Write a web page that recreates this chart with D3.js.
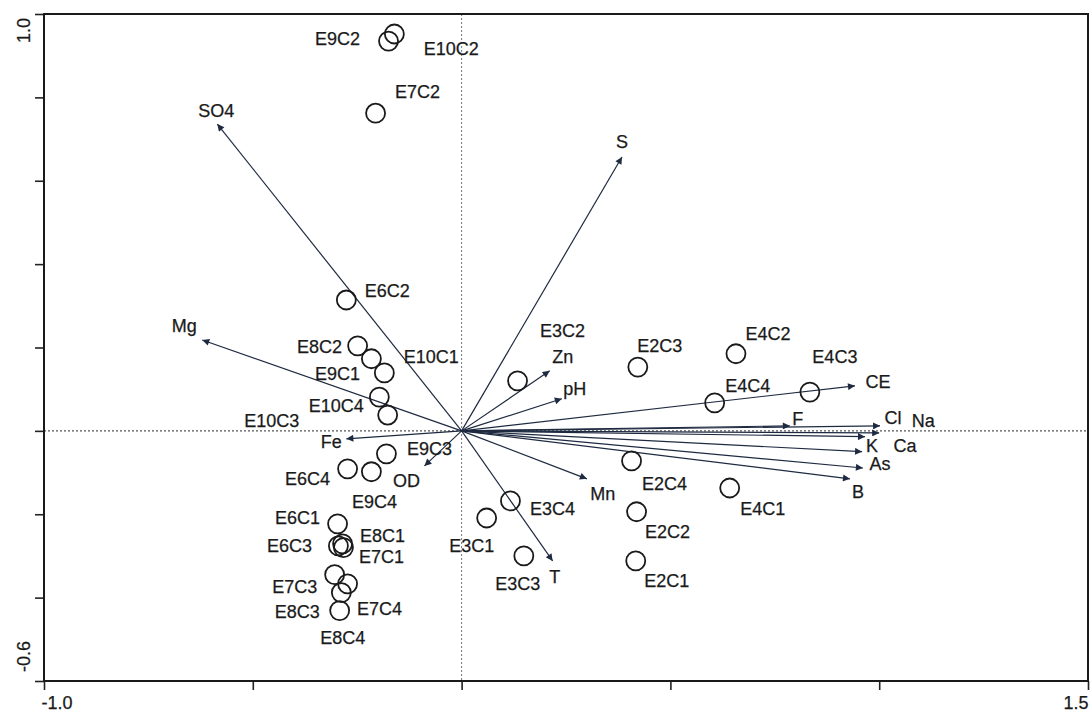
<!DOCTYPE html>
<html>
<head>
<meta charset="utf-8">
<script src="https://cdn.jsdelivr.net/npm/d3@7"></script>
<style>
  body { margin: 0; background: #fff; }
  svg { display: block; }
  text { font-family: "Liberation Sans", Arial, sans-serif; fill: #1a1a1a; stroke: #1a1a1a; stroke-width: 0.25px; }
</style>
</head>
<body>
<svg id="chart" width="1092" height="713"></svg>
<script>
// site scores (sample points)
const sites = ["E9C2", "E10C2", "E7C2", "E6C2", "E8C2", "E9C1", "E10C1", "E10C4", "E10C3", "E9C3",
    "E6C4", "E9C4", "E6C1", "E6C3", "E8C1", "E7C1", "E7C3", "E7C4", "E8C3", "E8C4",
    "E3C2", "E2C3", "E4C2", "E4C3", "E4C4", "E2C4", "E4C1", "E3C4", "E3C1", "E3C3", "E2C2", "E2C1"];
const siteX = [-0.175, -0.161, -0.206, -0.276, -0.249, -0.216, -0.185, -0.197, -0.177, -0.180,
    -0.273, -0.216, -0.297, -0.295, -0.285, -0.283, -0.304, -0.273, -0.288, -0.292,
    0.134, 0.422, 0.657, 0.834, 0.606, 0.407, 0.642, 0.117, 0.060, 0.149, 0.419, 0.417];
const siteY = [0.935, 0.952, 0.762, 0.314, 0.204, 0.173, 0.139, 0.081, 0.038, -0.055,
    -0.091, -0.098, -0.223, -0.276, -0.271, -0.280, -0.345, -0.367, -0.388, -0.431,
    0.120, 0.153, 0.185, 0.093, 0.067, -0.072, -0.137, -0.168, -0.209, -0.300, -0.194, -0.312];

// environmental variables (arrow tips)
const vars = ["SO4", "S", "Mg", "Zn", "pH", "CE", "F", "Cl", "Na", "Ca", "K", "As", "B", "Mn", "T", "OD", "Fe"];
const varX = [-0.585, 0.384, -0.621, 0.211, 0.240, 0.942, 0.786, 1.002, 1.000, 0.966, 0.959, 0.961, 0.930, 0.300, 0.218, -0.089, -0.276];
const varY = [0.736, 0.657, 0.218, 0.144, 0.077, 0.108, 0.012, 0.012, -0.005, -0.014, -0.050, -0.089, -0.115, -0.115, -0.312, -0.084, -0.019];

// axes
const xDomain = [-1.0, 1.5];
const yDomain = [-0.6, 1.0];
const xTicks = [-1.0, -0.5, 0, 0.5, 1.0, 1.5];
const yTicks = [-0.6, -0.4, -0.2, 0, 0.2, 0.4, 0.6, 0.8, 1.0];
const xTickLabels = ["-1.0", "1.5"];
const yTickLabels = ["-0.6", "1.0"];

// label placement (pixel offsets from the mark)
const siteLabelOffset = {
    "E9C2": [-51, -2], "E10C2": [57, 15], "E7C2": [42, -21], "E6C2": [41, -9], "E8C2": [-38, 1],
    "E9C1": [-34, 15], "E10C1": [47, -16], "E10C4": [-43, 9], "E10C3": [-116, 6], "E9C3": [43, -5],
    "E6C4": [-40, 10], "E9C4": [3, 30], "E6C1": [-40, -6], "E6C3": [-49, 0], "E8C1": [40, -8],
    "E7C1": [38, 9], "E7C3": [-40, 12], "E7C4": [32, 25], "E8C3": [-44, 19], "E8C4": [3, 27],
    "E3C2": [45, -50], "E2C3": [22, -21], "E4C2": [32, -20], "E4C3": [25, -35], "E4C4": [33, -17],
    "E2C4": [33, 23], "E4C1": [33, 21], "E3C4": [42, 8], "E3C1": [-15, 28], "E3C3": [-6, 28],
    "E2C2": [31, 20], "E2C1": [31, 20]
};
const varLabelOffset = {
    "SO4": [-1, -13], "S": [0, -15], "Mg": [-18, -14], "Zn": [13, -14], "pH": [13, -10],
    "CE": [23, -4], "F": [8, -7], "Cl": [13, -8], "Na": [44, -12], "Ca": [40, 9],
    "K": [10, -6], "As": [17, -4], "B": [8, 13], "Mn": [16, 15], "T": [2, 16],
    "OD": [-18, 15], "Fe": [-15, 3]
};

const svg = d3.select("#chart");
const plotLeft = 44, plotRight = 1088, plotTop = 14, plotBottom = 681;

const x = d3.scaleLinear().domain(xDomain).range([plotLeft, plotRight]);
const y = d3.scaleLinear().domain(yDomain).range([plotBottom, plotTop]);

// arrow head
svg.append("defs").append("marker")
    .attr("id", "head")
    .attr("viewBox", "0 0 10 10")
    .attr("refX", 10)
    .attr("refY", 5)
    .attr("markerWidth", 11)
    .attr("markerHeight", 7)
    .attr("markerUnits", "userSpaceOnUse")
    .attr("orient", "auto")
    .append("path")
    .attr("d", "M0,0 L10,5 L0,10 Z")
    .attr("fill", "#1e2a40");

// zero lines
svg.append("line")
    .attr("x1", x(0)).attr("x2", x(0))
    .attr("y1", plotTop).attr("y2", plotBottom)
    .attr("stroke", "#777").attr("stroke-width", 1)
    .attr("stroke-dasharray", "2,2");
svg.append("line")
    .attr("x1", plotLeft).attr("x2", plotRight)
    .attr("y1", y(0)).attr("y2", y(0))
    .attr("stroke", "#555").attr("stroke-width", 1.3)
    .attr("stroke-dasharray", "2,2");

// ticks
const yAxis = svg.append("g")
    .attr("transform", `translate(${plotLeft}, 0)`)
    .call(d3.axisLeft(y).tickValues(yTicks).tickSize(9).tickFormat(""));
const xAxis = svg.append("g")
    .attr("transform", `translate(0, ${plotBottom})`)
    .call(d3.axisBottom(x).tickValues(xTicks).tickSize(9).tickFormat(""));
[xAxis, yAxis].forEach(g => {
    g.select(".domain").remove();
    g.selectAll(".tick line").attr("stroke", "#222").attr("stroke-width", 1.6);
});

// frame
svg.append("rect")
    .attr("x", plotLeft).attr("y", plotTop)
    .attr("width", plotRight - plotLeft).attr("height", plotBottom - plotTop)
    .attr("fill", "none").attr("stroke", "#1a1a1a").attr("stroke-width", 2);

// end tick labels
svg.append("text")
    .attr("x", x(xDomain[0]) + 13).attr("y", 709)
    .attr("font-size", "18px").attr("text-anchor", "middle")
    .text(xTickLabels[0]);
svg.append("text")
    .attr("x", x(xDomain[1]) - 12).attr("y", 709)
    .attr("font-size", "18px").attr("text-anchor", "middle")
    .text(xTickLabels[1]);
svg.append("text")
    .attr("transform", `translate(30, ${y(yDomain[0]) - 9}) rotate(-90)`)
    .attr("font-size", "18px").attr("text-anchor", "start")
    .text(yTickLabels[0]);
svg.append("text")
    .attr("transform", `translate(30, ${y(yDomain[1]) + 4}) rotate(-90)`)
    .attr("font-size", "18px").attr("text-anchor", "end")
    .text(yTickLabels[1]);

// variable arrows
const varData = vars.map((v, i) => ({ name: v, x: varX[i], y: varY[i] }));
svg.append("g").selectAll("line").data(varData).enter().append("line")
    .attr("x1", x(0)).attr("y1", y(0))
    .attr("x2", d => x(d.x)).attr("y2", d => y(d.y))
    .attr("stroke", "#1e2a40").attr("stroke-width", 1.2)
    .attr("marker-end", "url(#head)");
svg.append("g").selectAll("text").data(varData).enter().append("text")
    .attr("x", d => x(d.x) + varLabelOffset[d.name][0])
    .attr("y", d => y(d.y) + varLabelOffset[d.name][1])
    .attr("font-size", "18px")
    .attr("text-anchor", "middle")
    .attr("dominant-baseline", "central")
    .text(d => d.name);

// sample circles
const siteData = sites.map((s, i) => ({ name: s, x: siteX[i], y: siteY[i] }));
svg.append("g").selectAll("circle").data(siteData).enter().append("circle")
    .attr("cx", d => x(d.x)).attr("cy", d => y(d.y))
    .attr("r", 9.5)
    .attr("fill", "none")
    .attr("stroke", "#1a1a1a")
    .attr("stroke-width", 1.8);
svg.append("g").selectAll("text").data(siteData).enter().append("text")
    .attr("x", d => x(d.x) + siteLabelOffset[d.name][0])
    .attr("y", d => y(d.y) + siteLabelOffset[d.name][1])
    .attr("font-size", "18px")
    .attr("text-anchor", "middle")
    .attr("dominant-baseline", "central")
    .text(d => d.name);
</script>
</body>
</html>
